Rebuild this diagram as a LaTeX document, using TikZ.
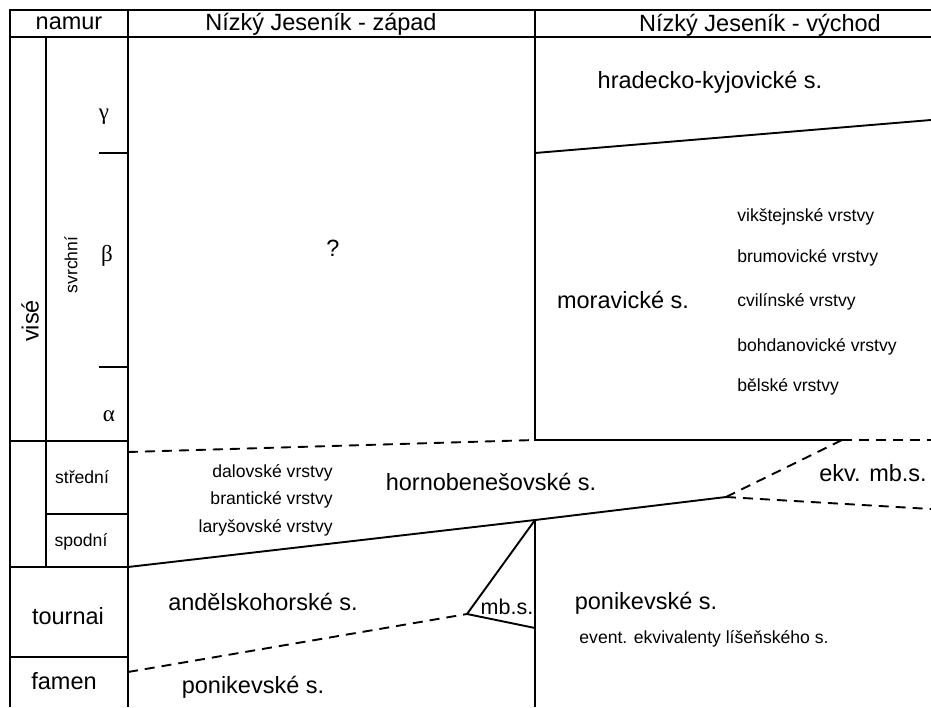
\documentclass[tikz,border=0pt]{standalone}
\usepackage{fontspec}
\setmainfont{Liberation Sans}
\newfontfamily\reckypismo{Liberation Serif}

\begin{document}
\begin{tikzpicture}[x=1pt,y=-1pt,line width=1.9pt,
    velky/.style={font=\fontsize{23.5}{26}\selectfont},
    maly/.style={font=\fontsize{17.6}{20}\selectfont},
    recky/.style={font=\reckypismo\fontsize{23}{24}\selectfont},
    prerus/.style={dash pattern=on 10pt off 7pt}]
    \useasboundingbox (0,0) rectangle (931,707);

    % body hranic
    \coordinate (zapHorni) at (128,452);
    \coordinate (vychRoh) at (535,440);
    \coordinate (morKonec) at (842,440);
    \coordinate (zlom) at (726,497);
    \coordinate (stred) at (535,520);
    \coordinate (mbRoh) at (467,614);
    \coordinate (mbDole) at (535,628);

    % tabulka
    \draw (10,707) -- (10,10) -- (931,10);
    \draw (10,37) -- (931,37);
    \draw (128,10) -- (128,707);
    \draw (535,10) -- (vychRoh) -- (morKonec);
    \draw (46,37) -- (46,567);
    \draw (99,153) -- (128,153);
    \draw (99,367) -- (128,367);
    \draw (10,441) -- (128,441);
    \draw (46,514) -- (128,514);
    \draw (10,567) -- (128,567);
    \draw (10,657) -- (128,657);

    % hranice souvrstvi
    \draw (535,153) -- (931,120);
    \draw[prerus] (zapHorni) -- (vychRoh);
    \draw[prerus] (morKonec) -- (931,440);
    \draw (128,567) -- (stred) -- (zlom);
    \draw[prerus] (zlom) -- (morKonec);
    \draw[prerus] (zlom) -- (931,509);
    \draw (stred) -- (535,707);
    \draw (stred) -- (mbRoh) -- (mbDole);
    \draw[prerus] (128,672) -- (mbRoh);

    % zahlavi
    \node[velky] (namur) at (69,23) {namur};
    \node[velky] (zapad) at (321,24) {Nízký Jeseník - západ};
    \node[velky] (vychod) at (760,25) {Nízký Jeseník - východ};

    % stratigrafie
    \node[recky] (gama) at (104,117) {γ};
    \node[recky] (beta) at (107,256) {β};
    \node[recky] (alfa) at (109,416) {α};
    \node[maly, rotate=90] (svrchni) at (71,265) {svrchní};
    \node[velky, rotate=90] (vise) at (30,321) {visé};
    \node[maly] (stredni) at (82,477) {střední};
    \node[maly] (spodni) at (81,542) {spodní};
    \node[velky] (tournai) at (68,616) {tournai};
    \node[velky] (famen) at (64,681) {famen};

    % zapad
    \node[velky] (otaznik) at (333,248) {?};
    \node[maly, anchor=east] (dalov) at (337,473) {dalovské vrstvy};
    \node[maly, anchor=east] (brant) at (337,500) {brantické vrstvy};
    \node[maly, anchor=east] (larys) at (337,528) {laryšovské vrstvy};
    \node[velky] (hornob) at (491,482) {hornobenešovské s.};
    \node[velky] (andel) at (263,602) {andělskohorské s.};
    \node[velky] (ponikZ) at (253,687) {ponikevské s.};
    \node[font=\fontsize{21.5}{24}\selectfont] (mbs) at (507,607) {mb.s.};

    % vychod
    \node[velky] (hradec) at (710,82) {hradecko-kyjovické s.};
    \node[velky] (morav) at (623,300) {moravické s.};
    \node[maly, anchor=west] (vikst) at (733,217) {vikštejnské vrstvy};
    \node[maly, anchor=west] (brum) at (733,258) {brumovické vrstvy};
    \node[maly, anchor=west] (cvil) at (733,302) {cvilínské vrstvy};
    \node[maly, anchor=west] (bohd) at (733,347) {bohdanovické vrstvy};
    \node[maly, anchor=west] (bel) at (733,387) {bělské vrstvy};
    \node[velky] (ekv) at (873,473) {ekv. mb.s.};
    \node[velky] (ponikV) at (646,603) {ponikevské s.};
    \node[maly] (event) at (704,639) {event. ekvivalenty líšeňského s.};
\end{tikzpicture}
\end{document}
